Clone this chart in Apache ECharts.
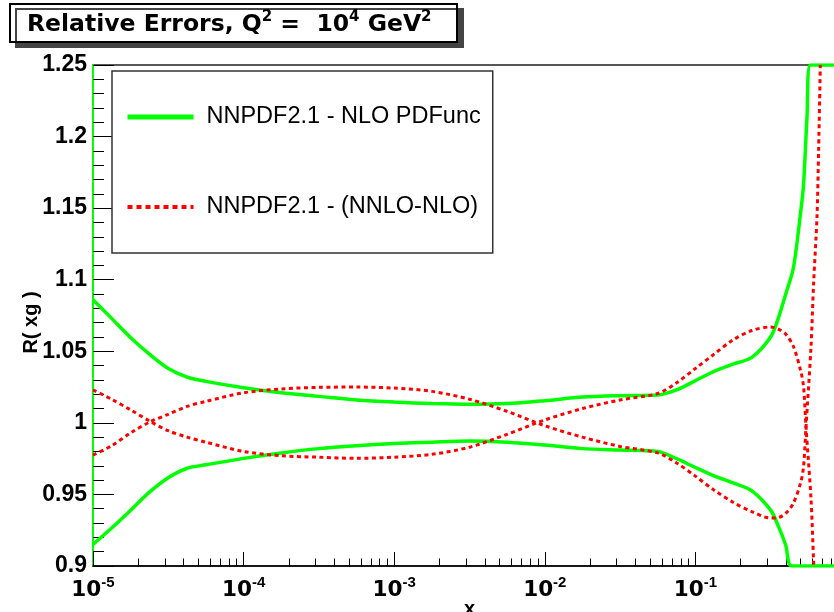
<!DOCTYPE html>
<html>
<head>
<meta charset="utf-8">
<script src="https://cdn.jsdelivr.net/npm/echarts@6/dist/echarts.min.js"></script>
<style>
  html, body { margin: 0; padding: 0; background: #fff; }
  #chart { width: 834px; height: 612px; }
</style>
</head>
<body>
<div id="chart"></div>
<script>
// Relative uncertainty of the gluon, R(xg), at Q^2 = 10^4 GeV^2.
// Green: NLO PDF uncertainty band (upper / lower edge).
// Red: NNLO - NLO shift drawn as 1 +/- delta.

const nloName = 'NNPDF2.1 - NLO PDFunc';
const nnloName = 'NNPDF2.1 - (NNLO-NLO)';

// NLO PDF uncertainty, upper edge
const nloUpperX = [1e-5, 1.33e-5, 1.78e-5, 2.37e-5, 3.16e-5, 4.22e-5, 5.62e-5, 1e-4, 1.78e-4, 3.16e-4,
  5.62e-4, 1e-3, 1.78e-3, 3.16e-3, 5.62e-3, 1e-2, 1.78e-2, 3.16e-2, 5.62e-2, 0.075,
  0.1, 0.133, 0.178, 0.237, 0.316, 0.355, 0.398, 0.447, 0.501, 0.523, 0.551, 0.579, 1];
const nloUpperY = [1.086, 1.073, 1.0595, 1.048, 1.038, 1.032, 1.029, 1.0245, 1.021, 1.0185,
  1.016, 1.0145, 1.0135, 1.013, 1.0135, 1.0155, 1.018, 1.019, 1.0195, 1.023,
  1.0295, 1.036, 1.041, 1.0458, 1.060, 1.073, 1.09, 1.108, 1.148, 1.167, 1.214, 1.25, 1.25];

// NLO PDF uncertainty, lower edge
const nloLowerX = [1e-5, 1.33e-5, 1.78e-5, 2.37e-5, 3.16e-5, 4.22e-5, 5.62e-5, 1e-4, 1.78e-4, 3.16e-4,
  5.62e-4, 1e-3, 1.78e-3, 3.16e-3, 5.62e-3, 1e-2, 1.78e-2, 3.16e-2, 5.62e-2, 0.075,
  0.1, 0.133, 0.178, 0.237, 0.316, 0.355, 0.398, 0.438, 1];
const nloLowerY = [0.915, 0.9265, 0.939, 0.9516, 0.9617, 0.9683, 0.9707, 0.9752, 0.979, 0.982,
  0.984, 0.9855, 0.9865, 0.9873, 0.9865, 0.9845, 0.982, 0.981, 0.980, 0.975,
  0.9688, 0.963, 0.958, 0.9525, 0.939, 0.928, 0.9145, 0.9, 0.9];

// NNLO - NLO, first branch (above 1 at the smallest x)
const shiftAX = [1e-5, 1.33e-5, 1.78e-5, 2.37e-5, 3.16e-5, 4.22e-5, 5.62e-5, 1e-4, 1.78e-4, 3.16e-4,
  5.62e-4, 1e-3, 1.78e-3, 3.16e-3, 5.62e-3, 1e-2, 1.78e-2, 3.16e-2, 5.62e-2, 0.075,
  0.1, 0.133, 0.178, 0.237, 0.316, 0.355, 0.398, 0.447, 0.501, 0.523, 0.5425, 0.5856, 0.6094, 0.612];
const shiftAY = [1.023, 1.0165, 1.009, 1.0013, 0.9945, 0.99, 0.9865, 0.980, 0.977, 0.976,
  0.9752, 0.976, 0.978, 0.983, 0.992, 1.002, 1.010, 1.016, 1.0205, 1.028,
  1.038, 1.048, 1.058, 1.0645, 1.067, 1.0655, 1.062, 1.0535, 1.036, 1.025, 0.997, 0.947, 0.903, 0.9];

// NNLO - NLO, second branch (below 1 at the smallest x)
const shiftBX = [1e-5, 1.33e-5, 1.78e-5, 2.37e-5, 3.16e-5, 4.22e-5, 5.62e-5, 1e-4, 1.78e-4, 3.16e-4,
  5.62e-4, 1e-3, 1.78e-3, 3.16e-3, 5.62e-3, 1e-2, 1.78e-2, 3.16e-2, 5.62e-2, 0.075,
  0.1, 0.133, 0.178, 0.237, 0.316, 0.355, 0.398, 0.447, 0.501, 0.523, 0.5425, 0.5856, 0.6094, 0.6418, 0.6577, 0.6752];
const shiftBY = [0.9775, 0.984, 0.993, 1.0005, 1.006, 1.0115, 1.015, 1.021, 1.0237, 1.0248,
  1.025, 1.0243, 1.022, 1.0165, 1.008, 0.998, 0.990, 0.9835, 0.979, 0.972,
  0.9628, 0.953, 0.9445, 0.938, 0.9335, 0.9338, 0.9368, 0.9438, 0.9585, 0.970, 0.997, 1.053, 1.0975, 1.144, 1.19, 1.25];

// Axis ranges and ticks
const xRange = [1e-5, 1];
const yRange = [0.9, 1.25];
const yStep = 0.05;
const xMinorTicks = [
  2e-5, 3e-5, 4e-5, 5e-5, 6e-5, 7e-5, 8e-5, 9e-5,
  2e-4, 3e-4, 4e-4, 5e-4, 6e-4, 7e-4, 8e-4, 9e-4,
  2e-3, 3e-3, 4e-3, 5e-3, 6e-3, 7e-3, 8e-3, 9e-3,
  2e-2, 3e-2, 4e-2, 5e-2, 6e-2, 7e-2, 8e-2, 9e-2,
  0.2, 0.3, 0.4, 0.5, 0.6, 0.7, 0.8, 0.9
];

const FONT = '"Liberation Sans", Arial, Helvetica, sans-serif';
const WIDE = '"DejaVu Sans", Verdana, sans-serif';
const GREEN = '#00ff00';
const RED = '#ff0000';

const pairs = (xs, ys) => xs.map((x, i) => [x, ys[i]]);

function curve(name, xs, ys, color, dashed) {
  return {
    name: name,
    type: 'line',
    xAxisIndex: 0,
    data: pairs(xs, ys),
    symbol: 'none',
    showSymbol: false,
    smooth: 0.3,
    color: color,
    lineStyle: dashed
      ? { color: color, width: 3, type: [4, 3.5] }
      : { color: color, width: 3.5 },
    z: dashed ? 3 : 2
  };
}

const chart = echarts.init(document.getElementById('chart'));

chart.setOption({
  animation: false,
  backgroundColor: '#fff',
  title: {
    text: '{t|Relative Errors, Q}{s|2}{t| =  10}{s|4}{t| GeV}{s|2}',
    left: 10,
    top: 4,
    padding: [6, 26, 5, 17],
    backgroundColor: '#fff',
    borderColor: '#000',
    borderWidth: 2,
    shadowColor: '#444',
    shadowBlur: 0,
    shadowOffsetX: 6,
    shadowOffsetY: 5,
    textStyle: {
      rich: {
        t: { fontFamily: WIDE, fontWeight: 'bold', fontSize: 23.5, lineHeight: 30, color: '#000' },
        s: { fontFamily: WIDE, fontWeight: 'bold', fontSize: 15, lineHeight: 15, verticalAlign: 'top', color: '#000' }
      }
    }
  },
  legend: {
    orient: 'vertical',
    left: 112,
    top: 71,
    padding: [31, 12, 31, 13],
    itemGap: 60,
    itemWidth: 66,
    itemHeight: 2,
    backgroundColor: '#fff',
    borderColor: '#333',
    borderWidth: 1.5,
    selectedMode: false,
    textStyle: { fontFamily: FONT, fontSize: 23.5, color: '#000', lineHeight: 30, padding: [0, 0, 0, 8] },
    data: [
      { name: nloName, lineStyle: { width: 5 }, itemStyle: { opacity: 0 } },
      { name: nnloName, lineStyle: { width: 4, type: [5, 4] }, itemStyle: { opacity: 0 } }
    ]
  },
  grid: {
    left: 93,
    top: 65,
    width: 753,
    height: 501,
    outerBoundsMode: 'none',
    containLabel: false,
    show: true,
    borderColor: '#222',
    borderWidth: 1.5,
    backgroundColor: 'transparent'
  },
  xAxis: [
    {
      type: 'log',
      logBase: 10,
      min: xRange[0],
      max: xRange[1],
      position: 'bottom',
      name: 'x',
      nameLocation: 'middle',
      nameGap: 33,
      nameMoveOverlap: false,
      nameTextStyle: { fontFamily: FONT, fontWeight: 'bold', fontSize: 20, color: '#000' },
      axisLine: { show: true, lineStyle: { color: '#000', width: 1.5 } },
      axisTick: { show: true, inside: true, length: 14, lineStyle: { color: '#000', width: 1 } },
      minorTick: { show: false },
      splitLine: { show: false },
      axisLabel: {
        margin: 9,
        formatter: function (v) {
          const e = Math.round(Math.log10(v));
          return e === 0 ? '' : '{b|10}{s|' + e + '}';
        },
        rich: {
          b: { fontFamily: WIDE, fontWeight: 'bold', fontSize: 21.5, lineHeight: 30, color: '#000' },
          s: { fontFamily: FONT, fontWeight: 'bold', fontSize: 15, lineHeight: 15, verticalAlign: 'top', color: '#000' }
        }
      }
    },
    {
      type: 'log',
      logBase: 10,
      min: xRange[0],
      max: xRange[1],
      gridIndex: 0,
      position: 'bottom',
      axisLine: { show: false },
      axisLabel: { show: false },
      splitLine: { show: false },
      axisTick: { show: true, inside: true, length: 7.5, customValues: xMinorTicks, lineStyle: { color: '#000', width: 1 } }
    }
  ],
  yAxis: {
    type: 'value',
    min: yRange[0],
    max: yRange[1],
    interval: yStep,
    name: 'R( xg )',
    nameLocation: 'middle',
    nameGap: 52,
    nameMoveOverlap: false,
    nameRotate: 90,
    nameTextStyle: { fontFamily: FONT, fontWeight: 'bold', fontSize: 20, color: '#000', padding: [0, 14, 0, 0] },
    axisLine: { show: true, lineStyle: { color: GREEN, width: 2 } },
    axisTick: { show: true, inside: true, length: 21, lineStyle: { color: '#000', width: 1 } },
    minorTick: { show: true, splitNumber: 5, length: 11, lineStyle: { color: '#000', width: 1 } },
    splitLine: { show: false },
    axisLabel: { margin: 6, fontFamily: FONT, fontWeight: 'bold', fontSize: 23, color: '#000' }
  },
  series: [
    curve(nloName, nloUpperX, nloUpperY, GREEN, false),
    curve(nloName, nloLowerX, nloLowerY, GREEN, false),
    curve(nnloName, shiftAX, shiftAY, RED, true),
    curve(nnloName, shiftBX, shiftBY, RED, true)
  ]
});
</script>
</body>
</html>
